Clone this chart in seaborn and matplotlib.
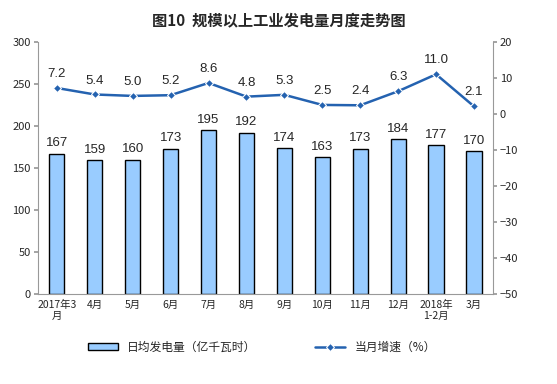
import pandas as pd
import matplotlib.pyplot as plt
import seaborn as sns

months = ['2017年3\n月', '4月', '5月', '6月', '7月', '8月', '9月', '10月', '11月', '12月', '2018年\n1-2月', '3月']
daily_output = [167, 159, 160, 173, 195, 192, 174, 163, 173, 184, 177, 170]
growth = [7.2, 5.4, 5.0, 5.2, 8.6, 4.8, 5.3, 2.5, 2.4, 6.3, 11.0, 2.1]

sns.set_theme(style='white')
plt.rcParams['font.family'] = ['Noto Sans CJK SC', 'DejaVu Sans']

df = pd.DataFrame({'month': months, 'output': daily_output, 'growth': growth})

fig = plt.figure(figsize=(5.57, 3.84), dpi=100)
ax = fig.add_axes([0.068, 0.234, 0.817, 0.657])

sns.barplot(data=df, x='month', y='output', color='#99CCFF', edgecolor='black',
            linewidth=1.0, width=0.4, saturation=1, ax=ax, label='日均发电量（亿千瓦时）')
for i, v in enumerate(daily_output):
    ax.text(i, v + 5, str(v), ha='center', va='bottom', fontsize=9.5, family=['Liberation Sans'])
ax.set_ylim(0, 300)
ax.set_yticks(range(0, 301, 50))
ax.set_xlim(-0.5, len(months) - 0.5)
ax.set_xlabel('')
ax.set_ylabel('')
ax.tick_params(axis='y', labelsize=8, length=3, color='#999999', pad=2)
ax.tick_params(axis='x', labelsize=7.5, length=0, pad=4)
for s in ['top', 'right']:
    ax.spines[s].set_visible(False)
for s in ['left', 'bottom']:
    ax.spines[s].set_color('#999999')
    ax.spines[s].set_linewidth(0.8)
ax.yaxis.set_tick_params(left=True)

ax2 = ax.twinx()
sns.lineplot(x=range(len(months)), y=growth, color='#2462B0', marker='D', markersize=4,
             linewidth=1.8, ax=ax2, label='当月增速（%）')
for i, v in enumerate(growth):
    ax2.text(i, v + 2.2, f'{v:.1f}', ha='center', va='bottom', fontsize=9.5, family=['Liberation Sans'])
ax2.set_ylim(-50, 20)
ax2.set_yticks(range(-50, 21, 10))
ax2.tick_params(axis='y', labelsize=8, length=3, color='#999999', pad=2)
ax2.yaxis.set_tick_params(right=True)
for s in ['top', 'left', 'bottom']:
    ax2.spines[s].set_visible(False)
ax2.spines['right'].set_color('#999999')
ax2.spines['right'].set_linewidth(0.8)

h1, l1 = ax.get_legend_handles_labels()
h2, l2 = ax2.get_legend_handles_labels()
if ax.get_legend() is not None:
    ax.get_legend().remove()
if ax2.get_legend() is not None:
    ax2.get_legend().remove()
fig.legend(h1 + h2, l1 + l2, loc='center', bbox_to_anchor=(0.47, 0.095), ncol=2,
           frameon=False, fontsize=8.5, handlelength=2.5, columnspacing=5,
           handleheight=0.5)

fig.suptitle('图10  规模以上工业发电量月度走势图', fontsize=11, fontweight='bold', y=0.965)

fig.savefig('out.png', dpi=100)
